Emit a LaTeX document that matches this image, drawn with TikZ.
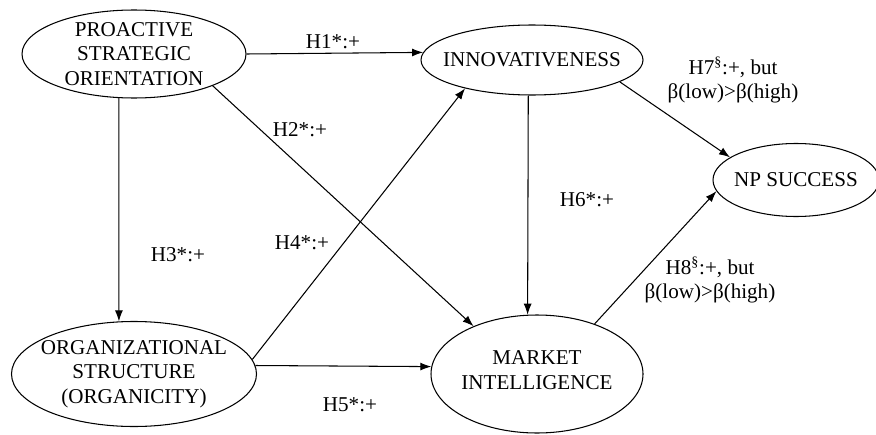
\documentclass[tikz,border=0pt]{standalone}
\usepackage{fontspec}
\setmainfont{Liberation Serif}
\usetikzlibrary{arrows.meta,shapes.geometric,positioning}

\begin{document}
\begin{tikzpicture}[line width=0.6pt,>={Latex[length=2.2mm,width=1.6mm]},
        construct/.style={ellipse,draw,inner sep=0pt},
        ctext/.style={align=center,font=\fontsize{12}{14}\selectfont},
        hyp/.style={align=center,font=\fontsize{12}{14}\selectfont}]
        \useasboundingbox (0,0) rectangle (17.52,8.68);

        \node[construct,minimum width=4.48cm,minimum height=1.76cm,
            label={[ctext]center:PROACTIVE\\STRATEGIC\\ORIENTATION}] (pso) at (2.68,7.60) {};
        \node[construct,minimum width=4.44cm,minimum height=1.40cm,
            label={[ctext]center:INNOVATIVENESS}] (inn) at (10.64,7.48) {};
        \node[construct,minimum width=3.32cm,minimum height=1.46cm,
            label={[ctext]center:NP SUCCESS}] (nps) at (15.92,5.08) {};
        \node[construct,minimum width=4.24cm,minimum height=2.36cm,
            label={[ctext,yshift=0.08cm]center:MARKET\\INTELLIGENCE}] (mkt) at (10.74,1.20) {};
        \node[construct,minimum width=4.90cm,minimum height=2.10cm,
            label={[ctext]center:ORGANIZATIONAL\\STRUCTURE\\(ORGANICITY)}] (org) at (2.68,1.20) {};

        \draw[->] (pso.east) -- (inn.176);
        \draw[->] (pso.338) -- (mkt.143);
        \draw[->] (pso.251) -- (org.106);
        \draw[->] (org.7) -- (inn.203);
        \draw[->] (org.4) -- (mkt.176);
        \draw[->] (inn.264) -- (mkt.99);
        \draw[->] (inn.346) -- (nps.161);
        \draw[->] (mkt.41) -- (nps.188);

        \node[hyp] (h1) at (6.66,7.84) {H1*:+};
        \node[hyp] (h2) at (6.00,6.08) {H2*:+};
        \node[hyp] (h3) at (3.56,3.58) {H3*:+};
        \node[hyp] (h4) at (6.04,3.82) {H4*:+};
        \node[hyp] (h5) at (7.00,0.58) {H5*:+};
        \node[hyp] (h6) at (11.74,4.68) {H6*:+};
        \node[hyp] (h7) at (14.66,7.08) {H7\textsuperscript{\S}:+, but\\β(low)>β(high)};
        \node[hyp] (h8) at (14.20,3.08) {H8\textsuperscript{\S}:+, but\\β(low)>β(high)};

\end{tikzpicture}
\end{document}
